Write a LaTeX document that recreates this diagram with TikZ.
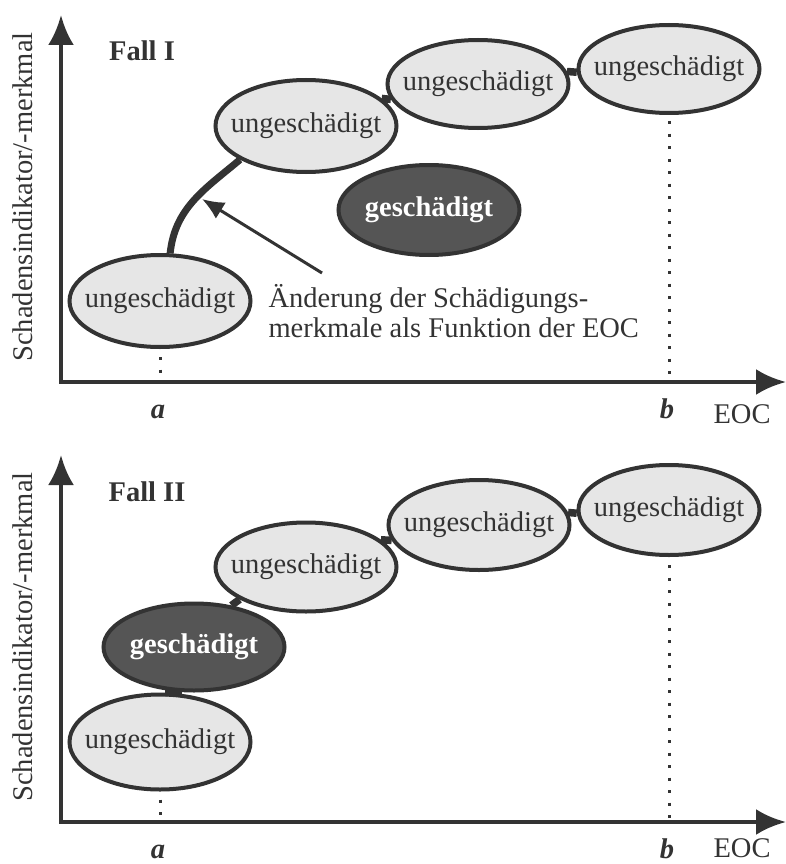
\documentclass[tikz,border=0pt]{standalone}
\usepackage{fontspec}
\setmainfont{Liberation Serif}
\usepackage{tikz}
\usetikzlibrary{shapes.geometric,arrows.meta}
\definecolor{ink}{HTML}{333333}
\definecolor{lightfill}{HTML}{E6E6E6}
\definecolor{darkfill}{HTML}{555555}
\newcommand{\bigfont}{\fontsize{28.5}{30}\selectfont}
\tikzstyle{state}=[ellipse, draw=ink, line width=4pt, fill=lightfill, text=ink, inner sep=0pt, inner xsep=-30pt, minimum width=181pt, minimum height=90pt]
\tikzstyle{damaged}=[state, fill=darkfill, text=white, font=\bigfont\bfseries]
\tikzstyle{link}=[draw=ink, line width=7.5pt]
\tikzstyle{axis}=[draw=ink, line width=4.5pt, line join=miter, {Latex[length=30pt,width=26pt]}-{Latex[length=30pt,width=26pt]}]
\tikzstyle{guide}=[draw=ink, line width=3pt, dash pattern=on 3pt off 9.5pt]

\begin{document}
\begin{tikzpicture}[x=1pt, y=-1pt, text=ink, font=\bigfont]
    \useasboundingbox (0,0) rectangle (786,864);
    \foreach \dy/\fall in {0/I, 440/II} {
        \coordinate (O\fall) at (61, 382+\dy);
        \draw[axis] (61, 15+\dy) -- (O\fall) -- (786, 382+\dy);
        \node[rotate=90] (ylab\fall) at (23, 197+\dy) {Schadensindikator/-merkmal};
        \node[anchor=base] (a\fall) at (158, 418+\dy) {\textbf{\textit{a}}};
        \node[anchor=base] (b\fall) at (667, 418+\dy) {\textbf{\textit{b}}};
    }
    \node[anchor=base] (eocI) at (742, 423) {EOC};
    \node[anchor=base] (eocII) at (742, 857) {EOC};
    \node[font=\bigfont\bfseries] (fall1) at (142, 51) {Fall I};
    \node[state, minimum height=92pt] (E1) at (160, 301) {ungeschädigt};
    \node[state, minimum height=92pt] (E2) at (306, 126) {ungeschädigt};
    \node[state, minimum height=88pt] (E3) at (478, 84) {ungeschädigt};
    \node[state, minimum height=88pt] (E4) at (669, 69) {ungeschädigt};
    \node[damaged, minimum height=90pt] (G1) at (429, 210) {geschädigt};
    \draw[link, line width=7pt] (E1.78) to[out=84, in=220] (E2.207);
    \draw[link] (E2.20) -- (E3.190);
    \draw[link] (E3.8) -- (E4.182);
    \node[anchor=west, align=left] (note) at (265, 311) {Änderung der Schädigungs-\\merkmale als Funktion der EOC};
    \coordinate (tail) at (322, 273);
    \coordinate (tip) at (202, 199);
    \draw[draw=ink, line width=3pt, -{Latex[length=22pt,width=19pt]}] (tail) -- (tip);
    \draw[guide, shorten <=8pt, shorten >=4pt] (E1.south) -- (E1.south |- OI);
    \draw[guide, shorten <=6pt, shorten >=4pt] (E4.south) -- (E4.south |- OI);
    \node[font=\bigfont\bfseries] (fall2) at (147, 492) {Fall II};
    \node[state, minimum height=95pt] (F1) at (160, 742) {ungeschädigt};
    \node[damaged, minimum height=87pt] (F2) at (194, 647) {geschädigt};
    \node[state, minimum height=89pt] (F3) at (306, 567) {ungeschädigt};
    \node[state, minimum height=90pt] (F4) at (479, 525) {ungeschädigt};
    \node[state, minimum height=90pt] (F5) at (669, 510) {ungeschädigt};
    \draw[link] (F2.255) -- (F1.84);
    \draw[link] (F2.48) -- (F3.206);
    \draw[link] (F3.20) -- (F4.190);
    \draw[link] (F4.8) -- (F5.182);
    \draw[guide, shorten <=8pt, shorten >=4pt] (F1.south) -- (F1.south |- OII);
    \draw[guide, shorten <=8pt, shorten >=4pt] (F5.south) -- (F5.south |- OII);
\end{tikzpicture}
\end{document}
